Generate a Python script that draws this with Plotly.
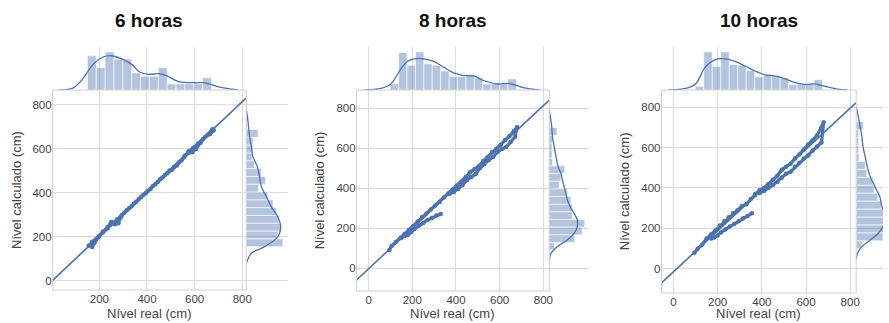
import plotly.graph_objects as go

W, H = 889, 323

titles = ["6 horas", "8 horas", "10 horas"]
x_title = "Nível real (cm)"
y_title = "Nível calculado (cm)"

# ---------------- scatter data (real vs calculated) ----------------
p1_x = [155, 170, 185, 200, 215, 235, 255, 275, 295, 315, 335, 355, 375, 395, 415, 435, 455, 475, 495, 515, 535, 555, 575, 595, 615, 635, 655, 675,
        680, 665, 645, 625, 605, 590, 575, 560, 545, 525, 505, 485, 465, 445, 425, 405, 385, 365, 345, 325, 305, 290, 280, 265, 250, 235, 215, 195, 180, 170]
p1_y = [160, 178, 190, 205, 222, 240, 262, 280, 300, 322, 340, 360, 380, 400, 418, 440, 462, 482, 502, 520, 540, 562, 590, 605, 625, 645, 665, 690,
        685, 668, 655, 628, 600, 585, 582, 570, 548, 525, 505, 490, 470, 450, 432, 410, 392, 372, 352, 330, 310, 290, 262, 258, 268, 245, 225, 198, 175, 155]

p2_x = [95, 105, 125, 145, 165, 185, 205, 225, 245, 265, 285, 305, 325, 345, 365, 385, 405, 425, 445, 465, 485, 505, 525, 545, 565, 585, 605, 625, 645, 665, 680,
        670, 650, 630, 610, 590, 570, 550, 530, 510, 490, 470, 450, 430, 410, 390, 370, None,
        330, 310, 290, 270, 250, 230, 210, 195, 180, 165, 150]
p2_y = [90, 110, 130, 150, 170, 190, 210, 232, 255, 272, 292, 312, 330, 352, 372, 392, 412, 432, 455, 480, 495, 510, 535, 555, 580, 595, 615, 640, 660, 685, 705,
        655, 630, 605, 595, 580, 555, 540, 520, 500, 470, 455, 440, 415, 395, 380, 370, None,
        270, 262, 250, 240, 225, 212, 195, 180, 165, 160, 150]

p3_x = [95, 110, 130, 150, 170, 190, 210, 230, 250, 270, 290, 310, 330, 350, 370, 390, 410, 430, 450, 470, 490, 510, 530, 550, 570, 590, 610, 630, 650, 670, 680,
        670, 650, 630, 610, 590, 570, 550, 530, 510, 490, 470, 450, 430, 410, 390, 370, None,
        355, 335, 315, 295, 275, 255, 235, 215, 200, 185, 170]
p3_y = [80, 100, 120, 150, 170, 190, 215, 235, 255, 275, 290, 310, 320, 345, 365, 390, 400, 420, 440, 460, 490, 505, 520, 545, 565, 590, 615, 635, 660, 700, 725,
        625, 605, 585, 560, 545, 525, 505, 480, 470, 450, 430, 415, 400, 385, 375, 370, None,
        275, 262, 250, 235, 222, 210, 195, 180, 165, 155, 150]

# regression lines (slope, intercept)
reg_slope = [1.02, 1.02, 1.01]
reg_intercept = [-1, -4, -14]

# ---------------- marginal histograms (relative density) ----------------
top_bin_start = [150, 99, 99]
top_bin_width = [37.2, 38.5, 38.4]
p1_top = [0.90, 0.59, 1.0, 0.81, 0.81, 0.45, 0.36, 0.36, 0.59, 0.16, 0.16, 0.16, 0.16, 0.32]
p2_top = [0.16, 0.98, 0.65, 1.0, 0.69, 0.65, 0.50, 0.35, 0.35, 0.41, 0.32, 0.16, 0.18, 0.16, 0.29]
p3_top = [0.09, 1.0, 0.62, 1.0, 0.67, 0.65, 0.51, 0.35, 0.38, 0.38, 0.32, 0.14, 0.16, 0.16, 0.27]

right_bin_start = [156, 90, 100]
right_bin_width = [35.5, 38.25, 39.2]
p1_right = [1.0, 0.86, 0.95, 0.90, 0.82, 0.73, 0.59, 0.33, 0.52, 0.41, 0.22, 0.16, 0.18, 0.18, 0.32]
p2_right = [0.14, 0.72, 0.93, 1.0, 0.65, 0.65, 0.61, 0.51, 0.28, 0.33, 0.44, 0.09, 0.08, 0.08, 0.09, 0.22]
p3_right = [0.16, 0.75, 1.0, 0.95, 0.85, 0.70, 0.60, 0.50, 0.47, 0.30, 0.25, 0.08, 0.07, 0.07, 0.07, 0.20]

# ---------------- KDE curves ----------------
p1_kx_x = [33, 89, 131, 172, 214, 249, 297, 339, 367, 408, 450, 484, 533, 604, 645, 700, 755, 783]
p1_kx_d = [0.0, 0.05, 0.30, 0.66, 0.86, 0.90, 0.81, 0.66, 0.48, 0.41, 0.43, 0.37, 0.22, 0.19, 0.19, 0.08, 0.02, 0.0]
p1_ky_y = [80, 126, 156, 201, 247, 292, 338, 383, 429, 474, 520, 565, 610, 656, 701, 747, 777]
p1_ky_d = [0.0, 0.14, 0.50, 0.86, 0.94, 0.86, 0.68, 0.55, 0.41, 0.36, 0.30, 0.18, 0.14, 0.09, 0.06, 0.03, 0.0]

p2_kx_x = [-20, 56, 101, 147, 177, 208, 253, 298, 344, 389, 435, 480, 526, 586, 647, 708, 783]
p2_kx_d = [0.0, 0.04, 0.15, 0.55, 0.75, 0.82, 0.82, 0.75, 0.60, 0.45, 0.38, 0.37, 0.25, 0.16, 0.17, 0.06, 0.0]
p2_ky_y = [40, 73, 107, 140, 173, 207, 240, 273, 307, 340, 373, 407, 440, 473, 507, 557, 607, 657, 707, 757, 790]
p2_ky_d = [0.0, 0.05, 0.23, 0.51, 0.70, 0.79, 0.79, 0.70, 0.59, 0.51, 0.47, 0.42, 0.37, 0.33, 0.25, 0.19, 0.14, 0.09, 0.07, 0.03, 0.0]

p3_kx_x = [-21, 54, 99, 144, 189, 234, 279, 324, 369, 413, 458, 503, 548, 593, 638, 683, 743, 788]
p3_kx_d = [0.0, 0.04, 0.15, 0.60, 0.80, 0.82, 0.75, 0.63, 0.50, 0.40, 0.37, 0.30, 0.20, 0.15, 0.16, 0.10, 0.02, 0.0]
p3_ky_y = [44, 78, 110, 143, 176, 209, 242, 275, 308, 357, 390, 423, 456, 505, 555, 604, 653, 703, 752, 801]
p3_ky_d = [0.0, 0.04, 0.16, 0.39, 0.62, 0.75, 0.82, 0.80, 0.72, 0.66, 0.57, 0.48, 0.39, 0.31, 0.25, 0.19, 0.16, 0.11, 0.06, 0.0]

# ---------------- layout geometry (pixels) ----------------
main_box = [(53, 248, 90, 290), (359, 553, 90, 291), (666, 862, 90, 293)]
right_end = [290, 593, 889]
top_start = 47
x_ranges = [[4, 817], [-55, 827], [-54, 827]]
y_ranges = [[-41, 868], [-115, 890], [-119, 884]]
x_ticks = [[200, 400, 600, 800], [0, 200, 400, 600, 800], [0, 200, 400, 600, 800]]
y_ticks = [0, 200, 400, 600, 800]
top_max = [1.13, 1.13, 1.13]
right_max = [1.14, 1.12, 0.75]

BLUE = "#4C72B0"
BAR = "rgba(76,114,176,0.42)"
GRID = "#dcdcdc"
TXT = "#444444"
FONT = "Liberation Sans, Arial, sans-serif"

scat = [(p1_x, p1_y), (p2_x, p2_y), (p3_x, p3_y)]
tops = [p1_top, p2_top, p3_top]
rights = [p1_right, p2_right, p3_right]
kx = [(p1_kx_x, p1_kx_d), (p2_kx_x, p2_kx_d), (p3_kx_x, p3_kx_d)]
ky = [(p1_ky_y, p1_ky_d), (p2_ky_y, p2_ky_d), (p3_ky_y, p3_ky_d)]


def fx(px):
    return px / W


def fy(py):
    return 1 - py / H


fig = go.Figure()
layout = {}
shapes = []
annotations = []

for i in range(3):
    n = 3 * i
    xm_ref = "x" if n == 0 else f"x{n+1}"
    ym_ref = "y" if n == 0 else f"y{n+1}"
    yt = f"y{n+2}"
    xr = f"x{n+3}"
    xm_key = "xaxis" if n == 0 else f"xaxis{n+1}"
    ym_key = "yaxis" if n == 0 else f"yaxis{n+1}"
    x0, x1, y0, y1 = main_box[i]

    layout[xm_key] = dict(domain=[fx(x0), fx(x1)], range=x_ranges[i], anchor=ym_ref,
                          tickvals=x_ticks[i], showgrid=True, gridcolor=GRID, gridwidth=1,
                          zeroline=False, showline=False, ticks="",
                          tickfont=dict(size=11.5, color=TXT, family=FONT))
    layout[ym_key] = dict(domain=[fy(y1), fy(y0)], range=y_ranges[i], anchor=xm_ref,
                          tickvals=y_ticks, showgrid=True, gridcolor=GRID, gridwidth=1,
                          zeroline=False, showline=False, ticks="",
                          tickfont=dict(size=11.5, color=TXT, family=FONT))
    layout[f"yaxis{n+2}"] = dict(domain=[fy(y0), fy(top_start)], range=[0, top_max[i]], anchor=xm_ref,
                                 showgrid=False, zeroline=False, showticklabels=False, ticks="", showline=False)
    layout[f"xaxis{n+3}"] = dict(domain=[fx(x1), min(1.0, fx(right_end[i]))], range=[0, right_max[i]],
                                 anchor=ym_ref,
                                 showgrid=False, zeroline=False, showticklabels=False, ticks="", showline=False)

    # top histogram + KDE
    tb = [top_bin_start[i] + top_bin_width[i] * (k + 0.5) for k in range(len(tops[i]))]
    fig.add_trace(go.Bar(x=tb, y=tops[i], width=top_bin_width[i], marker=dict(color=BAR, line=dict(color="white", width=0.6)),
                         xaxis=xm_ref, yaxis=yt, showlegend=False))
    fig.add_trace(go.Scatter(x=kx[i][0], y=kx[i][1], mode="lines", line=dict(color=BLUE, width=1.3, shape="spline"),
                             xaxis=xm_ref, yaxis=yt, showlegend=False))
    # right histogram + KDE
    rb = [right_bin_start[i] + right_bin_width[i] * (k + 0.5) for k in range(len(rights[i]))]
    fig.add_trace(go.Bar(y=rb, x=rights[i], width=right_bin_width[i], orientation="h",
                         marker=dict(color=BAR, line=dict(color="white", width=0.6)),
                         xaxis=xr, yaxis=ym_ref, showlegend=False))
    fig.add_trace(go.Scatter(x=ky[i][1], y=ky[i][0], mode="lines", line=dict(color=BLUE, width=1.3, shape="spline"),
                             xaxis=xr, yaxis=ym_ref, showlegend=False))
    # scatter
    fig.add_trace(go.Scatter(x=scat[i][0], y=scat[i][1], mode="lines+markers",
                             line=dict(color=BLUE, width=3.2), marker=dict(color=BLUE, size=4.5),
                             connectgaps=False, xaxis=xm_ref, yaxis=ym_ref, showlegend=False))
    # regression line
    lx = x_ranges[i]
    ly = [reg_slope[i] * v + reg_intercept[i] for v in lx]
    fig.add_trace(go.Scatter(x=lx, y=ly, mode="lines", line=dict(color=BLUE, width=1.6),
                             xaxis=xm_ref, yaxis=ym_ref, showlegend=False))

    shapes.append(dict(type="rect", xref=f"{xm_ref} domain", yref=f"{ym_ref} domain", x0=0, x1=1, y0=0, y1=1,
                       line=dict(color="#cfcfcf", width=1), layer="above"))

    cx = (x0 + x1) / 2
    annotations.append(dict(text=f"<b>{titles[i]}</b>", x=fx(cx), y=fy(21), xref="paper", yref="paper",
                            showarrow=False, font=dict(size=19, color="#111111", family=FONT), xanchor="center", yanchor="middle"))
    annotations.append(dict(text=x_title, x=fx(cx), y=fy(313), xref="paper", yref="paper",
                            showarrow=False, font=dict(size=13, color=TXT, family=FONT), xanchor="center", yanchor="middle"))
    annotations.append(dict(text=y_title, x=fx(x0 - 37), y=fy((y0 + y1) / 2), xref="paper", yref="paper", textangle=-90,
                            showarrow=False, font=dict(size=13, color=TXT, family=FONT), xanchor="center", yanchor="middle"))

fig.update_layout(**layout)
fig.update_layout(width=W, height=H, margin=dict(l=0, r=0, t=0, b=0), paper_bgcolor="white", plot_bgcolor="white",
                  bargap=0, shapes=shapes, annotations=annotations, showlegend=False, hovermode=False)
fig.write_html("out.html", config={"displayModeBar": False, "staticPlot": True},
               post_script="document.body.style.margin='0px';document.body.style.overflow='hidden';")
